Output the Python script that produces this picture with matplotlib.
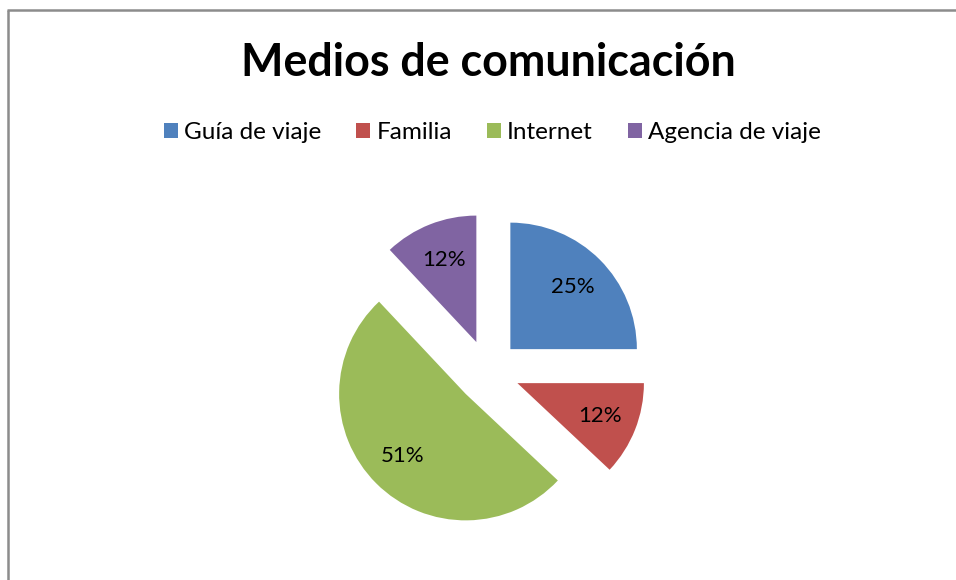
import matplotlib
matplotlib.use("Agg")
import matplotlib.pyplot as plt
from matplotlib.lines import Line2D

# Datos de la encuesta
categorias = ["Guía de viaje", "Familia", "Internet", "Agencia de viaje"]
porcentajes = [25, 12, 51, 12]
colores = ["#4F81BD", "#C0504D", "#9BBB59", "#8064A2"]

plt.rcParams['font.family'] = ['Lato', 'DejaVu Sans']

W, H = 956, 580
fig = plt.figure(figsize=(W / 100, H / 100), dpi=100)

# marco del grafico (solo se ven los bordes izquierdo y superior)
fig.add_artist(Line2D([8.3 / W, 8.3 / W], [0, 1 - 10 / H], color="#8c8c8c", lw=1.8,
                      transform=fig.transFigure, solid_capstyle="butt"))
fig.add_artist(Line2D([8.3 / W - 0.0013, 1], [1 - 10 / H, 1 - 10 / H], color="#8c8c8c", lw=1.8,
                      transform=fig.transFigure, solid_capstyle="butt"))

# titulo
fig.text(488 / W, 1 - 75.7 / H, "Medios de comunicación", ha="center", va="baseline",
         fontsize=32.3, fontweight="bold", color="black")

# ejes del pastel
cx, cy, r = 488, H - 371.5, 126.5
lim = 1.6
side = 2 * lim * r
ax = fig.add_axes([(cx - side / 2) / W, (cy - side / 2) / H, side / W, side / H])

wedges, textos, autotextos = ax.pie(
    porcentajes, colors=colores, startangle=90, counterclock=False,
    explode=[0.25] * len(porcentajes), autopct="%.0f%%", pctdistance=0.7,
    wedgeprops=dict(linewidth=0), textprops=dict(fontsize=16, color="black"))
ax.set_xlim(-lim, lim)
ax.set_ylim(-lim, lim)
ax.set_aspect("equal")
ax.axis("off")

fig.legend(wedges, categorias, loc="center", bbox_to_anchor=(492.5 / W, 1 - 132.5 / H),
           ncol=4, frameon=False, fontsize=17.5, handlelength=0.58, handleheight=0.58,
           handletextpad=0.25, columnspacing=1.44, borderpad=0)

fig.savefig("out.png", dpi=100)
